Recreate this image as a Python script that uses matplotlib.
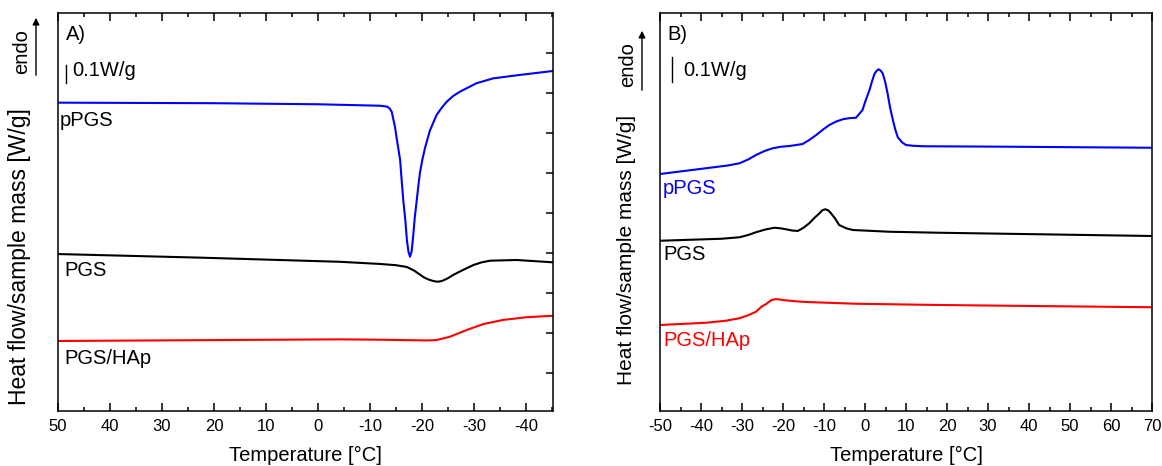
import numpy as np
import matplotlib
matplotlib.use("Agg")
import matplotlib.pyplot as plt
from matplotlib.ticker import MultipleLocator
from matplotlib.patches import FancyArrowPatch

plt.rcParams['font.family'] = ['Liberation Sans', 'DejaVu Sans']
plt.rcParams['axes.unicode_minus'] = False

# ---- panel A (cooling) ----
a_ppgs_t = [50, 40, 20, 0, -11.9, -13.3, -13.8, -14.2, -14.4, -14.8, -15.1, -15.8, -16.1, -16.4, -16.8,
            -17.1, -17.4, -17.7, -18.0, -18.3, -18.6, -19.0, -19.3, -19.6, -20.1, -20.6, -21.5, -22.8,
            -23.8, -24.75, -26.0, -27.3, -30.5, -33.7, -38.8, -45.2]
a_ppgs_q = [1.713, 1.712, 1.710, 1.704, 1.696, 1.691, 1.680, 1.661, 1.633, 1.580, 1.522, 1.394, 1.280, 1.172, 1.060,
            0.950, 0.885, 0.857, 0.885, 0.968, 1.070, 1.172, 1.250, 1.322, 1.400, 1.463, 1.556, 1.644,
            1.685, 1.718, 1.750, 1.774, 1.821, 1.848, 1.867, 1.889]

a_pgs_t = [50, 22.7, -4.2, -11.9, -15.0, -17.1, -18.5, -19.6, -20.4, -21.2, -22.2, -23.0, -23.8, -24.6, -25.3,
           -26.0, -28.0, -29.9, -31.5, -33.1, -38.2, -45.2]
a_pgs_q = [0.872, 0.852, 0.829, 0.817, 0.810, 0.800, 0.780, 0.758, 0.742, 0.731, 0.722, 0.718, 0.722, 0.732,
           0.743, 0.756, 0.785, 0.811, 0.826, 0.835, 0.839, 0.826]

a_hap_t = [50, -4.2, -11.9, -21.0, -22.8, -25.4, -28.6, -31.8, -35.6, -40.1, -45.2]
a_hap_q = [0.389, 0.398, 0.396, 0.392, 0.394, 0.413, 0.450, 0.483, 0.506, 0.521, 0.529]

# ---- panel B (heating) ----
b_ppgs_t = [-50, -38.8, -33.5, -30.6, -28.5, -26.6, -24.5, -22.5, -20.5, -18.4, -15.2, -13.6, -11.9, -10.3,
            -8.7, -7.0, -5.4, -4.0, -2.2, -0.6, 0.0, 1.1, 1.7, 2.3, 2.8, 3.3, 3.8, 4.3, 4.9, 5.5, 6.1,
            6.8, 7.4, 8.0, 9.0, 10.0, 11.6, 14.1, 36.0, 70]
b_ppgs_q = [0.948, 0.971, 0.982, 0.991, 1.006, 1.024, 1.040, 1.051, 1.057, 1.060, 1.068, 1.084, 1.104, 1.125,
            1.144, 1.158, 1.167, 1.171, 1.173, 1.204, 1.235, 1.284, 1.318, 1.348, 1.360, 1.367, 1.362,
            1.351, 1.318, 1.271, 1.215, 1.164, 1.125, 1.095, 1.075, 1.064, 1.061, 1.059, 1.057, 1.053]

b_pgs_t = [-50, -35.0, -30.6, -28.5, -26.6, -24.3, -22.1, -20.7, -19.3, -17.8, -16.4, -15.0, -13.6, -12.3,
           -11.1, -10.4, -9.7, -9.0, -8.3, -7.3, -6.3, -4.6, -3.0, 6.0, 18.2, 70]
b_pgs_q = [0.681, 0.689, 0.695, 0.704, 0.715, 0.726, 0.733, 0.731, 0.727, 0.722, 0.720, 0.733, 0.751, 0.773,
           0.791, 0.803, 0.807, 0.803, 0.791, 0.770, 0.744, 0.731, 0.724, 0.717, 0.713, 0.700]

b_hap_t = [-50, -38.8, -34.0, -30.6, -28.5, -26.6, -25.2, -24.1, -23.0, -22.1, -21.1, -20.1, -17.0, -14.4,
           -2.2, 18.2, 70]
b_hap_q = [0.344, 0.353, 0.361, 0.371, 0.383, 0.397, 0.418, 0.428, 0.442, 0.447, 0.447, 0.444, 0.439, 0.436,
           0.429, 0.424, 0.415]

blue, red = '#0000ff', '#ff0000'
colors = [blue, 'black', red]

fig = plt.figure(figsize=(11.62, 4.66), dpi=100)
axA = fig.add_axes([58/1162, 55/466, 495/1162, 398/466])
axB = fig.add_axes([660/1162, 55/466, 492/1162, 398/466])

lw = 1.5
for t, q, c in zip([a_ppgs_t, a_pgs_t, a_hap_t], [a_ppgs_q, a_pgs_q, a_hap_q], colors):
    axA.plot(t, q, color=c, lw=lw)
for t, q, c in zip([b_ppgs_t, b_pgs_t, b_hap_t], [b_ppgs_q, b_pgs_q, b_hap_q], colors):
    axB.plot(t, q, color=c, lw=lw)

axA.set_xlim(50, -45.2)
axA.set_ylim(0, 398/180)
axB.set_xlim(-50, 70)
axB.set_ylim(0, 398/250)

for ax in (axA, axB):
    for s in ax.spines.values():
        s.set_linewidth(1.1)
    ax.xaxis.set_major_locator(MultipleLocator(10))
    ax.xaxis.set_minor_locator(MultipleLocator(5))
    ax.tick_params(axis='x', which='both', direction='in', top=True, bottom=True, labelsize=12, pad=6)
    ax.tick_params(axis='x', which='major', length=6, width=1.1)
    ax.tick_params(axis='x', which='minor', length=3, width=1.1)
    ax.set_xlabel('Temperature [°C]', fontsize=14.5, labelpad=8)

# panel A: ticks only on the right side
axA.set_yticks(np.arange(398/180 - 40/180, 0.1, -40/180))
axA.tick_params(axis='y', direction='in', left=False, right=True, length=5, width=1.1, labelleft=False)
axB.set_yticks([])

# y labels
fig.text(20/1162, 1 - 257/466, 'Heat flow/sample mass [W/g]', rotation=90, fontsize=16.5,
         ha='center', va='center')
fig.text(627/1162, 1 - 250/466, 'Heat flow/sample mass [W/g]', rotation=90, fontsize=15,
         ha='center', va='center')

# endo arrows
for xt, yt, xa, y0, y1 in [(22, 52, 36, 78, 15), (628, 65, 642, 93, 28)]:
    fig.text(xt/1162, 1 - yt/466, 'endo', rotation=90, fontsize=14.5, ha='center', va='center')
    fig.add_artist(FancyArrowPatch((xa/1162, 1 - y0/466), (xa/1162, 1 - y1/466),
                   transform=fig.transFigure, arrowstyle='-|>', mutation_scale=10,
                   color='black', lw=1))


def ptxt(ax, xpx, ypx, s, c='black'):
    # text placed by pixel offset from the top-left corner of the axes
    ax.text(xpx / ax.bbox.width, 1 - ypx / 398, s, transform=ax.transAxes,
            fontsize=14.5, color=c, ha='left', va='center')


# panel A annotations
ptxt(axA, 8, 22, 'A)')
ptxt(axA, 14, 58, '0.1W/g')
axA.plot([8/495, 8/495], [1 - 52/398, 1 - 70/398], transform=axA.transAxes, color='black', lw=1)
ptxt(axA, 2, 108, 'pPGS')
ptxt(axA, 6, 258, 'PGS')
ptxt(axA, 6, 345, 'PGS/HAp')

# panel B annotations
ptxt(axB, 7, 22, 'B)')
ptxt(axB, 23, 58, '0.1W/g')
axB.plot([12/492, 12/492], [1 - 44/398, 1 - 69/398], transform=axB.transAxes, color='black', lw=1)
ptxt(axB, 3, 175, 'pPGS', c=blue)
ptxt(axB, 3, 241, 'PGS')
ptxt(axB, 3, 327, 'PGS/HAp', c=red)

fig.savefig('out.png', dpi=100)
